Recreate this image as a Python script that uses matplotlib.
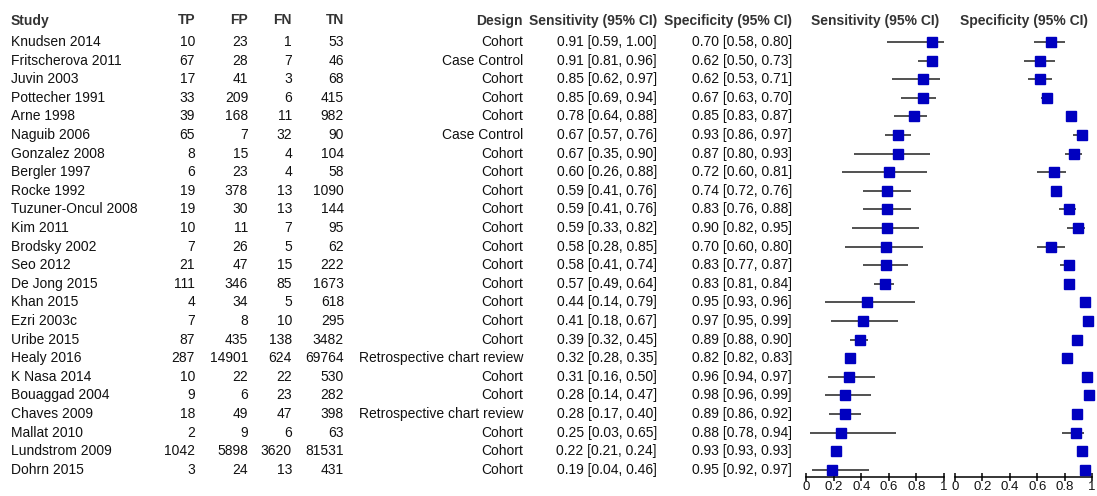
import matplotlib.pyplot as plt

plt.rcParams['font.family'] = ['Liberation Sans', 'DejaVu Sans']

# Datos de los estudios
estudios = ['Knudsen 2014', 'Fritscherova 2011', 'Juvin 2003', 'Pottecher 1991', 'Arne 1998',
            'Naguib 2006', 'Gonzalez 2008', 'Bergler 1997', 'Rocke 1992', 'Tuzuner-Oncul 2008',
            'Kim 2011', 'Brodsky 2002', 'Seo 2012', 'De Jong 2015', 'Khan 2015', 'Ezri 2003c',
            'Uribe 2015', 'Healy 2016', 'K Nasa 2014', 'Bouaggad 2004', 'Chaves 2009',
            'Mallat 2010', 'Lundstrom 2009', 'Dohrn 2015']
tp = [10, 67, 17, 33, 39, 65, 8, 6, 19, 19, 10, 7, 21, 111, 4, 7, 87, 287, 10, 9, 18, 2, 1042, 3]
fp = [23, 28, 41, 209, 168, 7, 15, 23, 378, 30, 11, 26, 47, 346, 34, 8, 435, 14901, 22, 6, 49, 9, 5898, 24]
fn = [1, 7, 3, 6, 11, 32, 4, 4, 13, 13, 7, 5, 15, 85, 5, 10, 138, 624, 22, 23, 47, 6, 3620, 13]
tn = [53, 46, 68, 415, 982, 90, 104, 58, 1090, 144, 95, 62, 222, 1673, 618, 295, 3482, 69764,
      530, 282, 398, 63, 81531, 431]
diseno = ['Cohort', 'Case Control', 'Cohort', 'Cohort', 'Cohort', 'Case Control', 'Cohort',
          'Cohort', 'Cohort', 'Cohort', 'Cohort', 'Cohort', 'Cohort', 'Cohort', 'Cohort', 'Cohort',
          'Cohort', 'Retrospective chart review', 'Cohort', 'Cohort', 'Retrospective chart review',
          'Cohort', 'Cohort', 'Cohort']
sens = [0.91, 0.91, 0.85, 0.85, 0.78, 0.67, 0.67, 0.60, 0.59, 0.59, 0.59, 0.58, 0.58, 0.57,
        0.44, 0.41, 0.39, 0.32, 0.31, 0.28, 0.28, 0.25, 0.22, 0.19]
sens_lo = [0.59, 0.81, 0.62, 0.69, 0.64, 0.57, 0.35, 0.26, 0.41, 0.41, 0.33, 0.28, 0.41, 0.49,
           0.14, 0.18, 0.32, 0.28, 0.16, 0.14, 0.17, 0.03, 0.21, 0.04]
sens_hi = [1.00, 0.96, 0.97, 0.94, 0.88, 0.76, 0.90, 0.88, 0.76, 0.76, 0.82, 0.85, 0.74, 0.64,
           0.79, 0.67, 0.45, 0.35, 0.50, 0.47, 0.40, 0.65, 0.24, 0.46]
espec = [0.70, 0.62, 0.62, 0.67, 0.85, 0.93, 0.87, 0.72, 0.74, 0.83, 0.90, 0.70, 0.83, 0.83,
         0.95, 0.97, 0.89, 0.82, 0.96, 0.98, 0.89, 0.88, 0.93, 0.95]
espec_lo = [0.58, 0.50, 0.53, 0.63, 0.83, 0.86, 0.80, 0.60, 0.72, 0.76, 0.82, 0.60, 0.77, 0.81,
            0.93, 0.95, 0.88, 0.82, 0.94, 0.96, 0.86, 0.78, 0.93, 0.92]
espec_hi = [0.80, 0.73, 0.71, 0.70, 0.87, 0.97, 0.93, 0.81, 0.76, 0.88, 0.95, 0.80, 0.87, 0.84,
            0.96, 0.99, 0.90, 0.83, 0.97, 0.99, 0.92, 0.94, 0.93, 0.97]
ticks = [0, 0.2, 0.4, 0.6, 0.8, 1]
tick_labels = ['0', '0.2', '0.4', '0.6', '0.8', '1']

W, H = 1097, 496
fig = plt.figure(figsize=(W / 100, H / 100), dpi=100)

# Geometría de filas (en píxeles)
fila0, paso = 42.0, 18.6
y_eje = 477.0
y_top = 30.0
ylim = ((y_eje - fila0) / paso, (y_top - fila0) / paso)

# Ejes de la tabla en coordenadas de píxel
ax_t = fig.add_axes([0, 0, 1, 1])
ax_t.set_xlim(0, W)
ax_t.set_ylim(H, 0)
ax_t.axis('off')

fs = 10
c_txt = '#111111'
c_head = '#333333'
y_head = 20.5
cabeceras = [('Study', 11, 'left'), ('TP', 195, 'right'), ('FP', 248, 'right'),
             ('FN', 292, 'right'), ('TN', 344, 'right'), ('Design', 523, 'right'),
             ('Sensitivity (95% CI)', 657, 'right'), ('Specificity (95% CI)', 792, 'right'),
             ('Sensitivity (95% CI)', 875, 'center'), ('Specificity (95% CI)', 1024, 'center')]
for txt, x, ha in cabeceras:
    ax_t.text(x, y_head, txt, ha=ha, va='center', fontsize=fs, fontweight='bold', color=c_head)

for i in range(len(estudios)):
    y = fila0 + paso * i
    ax_t.text(11, y, estudios[i], ha='left', va='center', fontsize=fs, color=c_txt)
    ax_t.text(195, y, str(tp[i]), ha='right', va='center', fontsize=fs, color=c_txt)
    ax_t.text(248, y, str(fp[i]), ha='right', va='center', fontsize=fs, color=c_txt)
    ax_t.text(292, y, str(fn[i]), ha='right', va='center', fontsize=fs, color=c_txt)
    ax_t.text(344, y, str(tn[i]), ha='right', va='center', fontsize=fs, color=c_txt)
    ax_t.text(523, y, diseno[i], ha='right', va='center', fontsize=fs, color=c_txt)
    ax_t.text(657, y, f"{sens[i]:.2f} [{sens_lo[i]:.2f}, {sens_hi[i]:.2f}]",
              ha='right', va='center', fontsize=fs, color=c_txt)
    ax_t.text(792, y, f"{espec[i]:.2f} [{espec_lo[i]:.2f}, {espec_hi[i]:.2f}]",
              ha='right', va='center', fontsize=fs, color=c_txt)


def forest(x0, x1, valores, lo, hi):
    ax = fig.add_axes([x0 / W, 1 - y_eje / H, (x1 - x0) / W, (y_eje - y_top) / H])
    filas = list(range(len(valores)))
    ax.hlines(filas, lo, hi, color='#222222', linewidth=1.1, clip_on=False)
    ax.plot(valores, filas, 's', color='#0000c0', markersize=6.5, clip_on=False, zorder=3)
    ax.set_xlim(0, 1)
    ax.set_ylim(*ylim)
    for s in ['top', 'left', 'right']:
        ax.spines[s].set_visible(False)
    ax.spines['bottom'].set_linewidth(1.1)
    ax.set_yticks([])
    ax.set_xticks(ticks)
    ax.set_xticklabels(tick_labels)
    ax.tick_params(axis='x', direction='inout', length=6, width=1.1, labelsize=9.5, pad=0,
                   labelcolor=c_txt)
    ax.set_facecolor('none')
    return ax


forest(806, 944, sens, sens_lo, sens_hi)
forest(955, 1092, espec, espec_lo, espec_hi)

fig.savefig('out.png', dpi=100)
